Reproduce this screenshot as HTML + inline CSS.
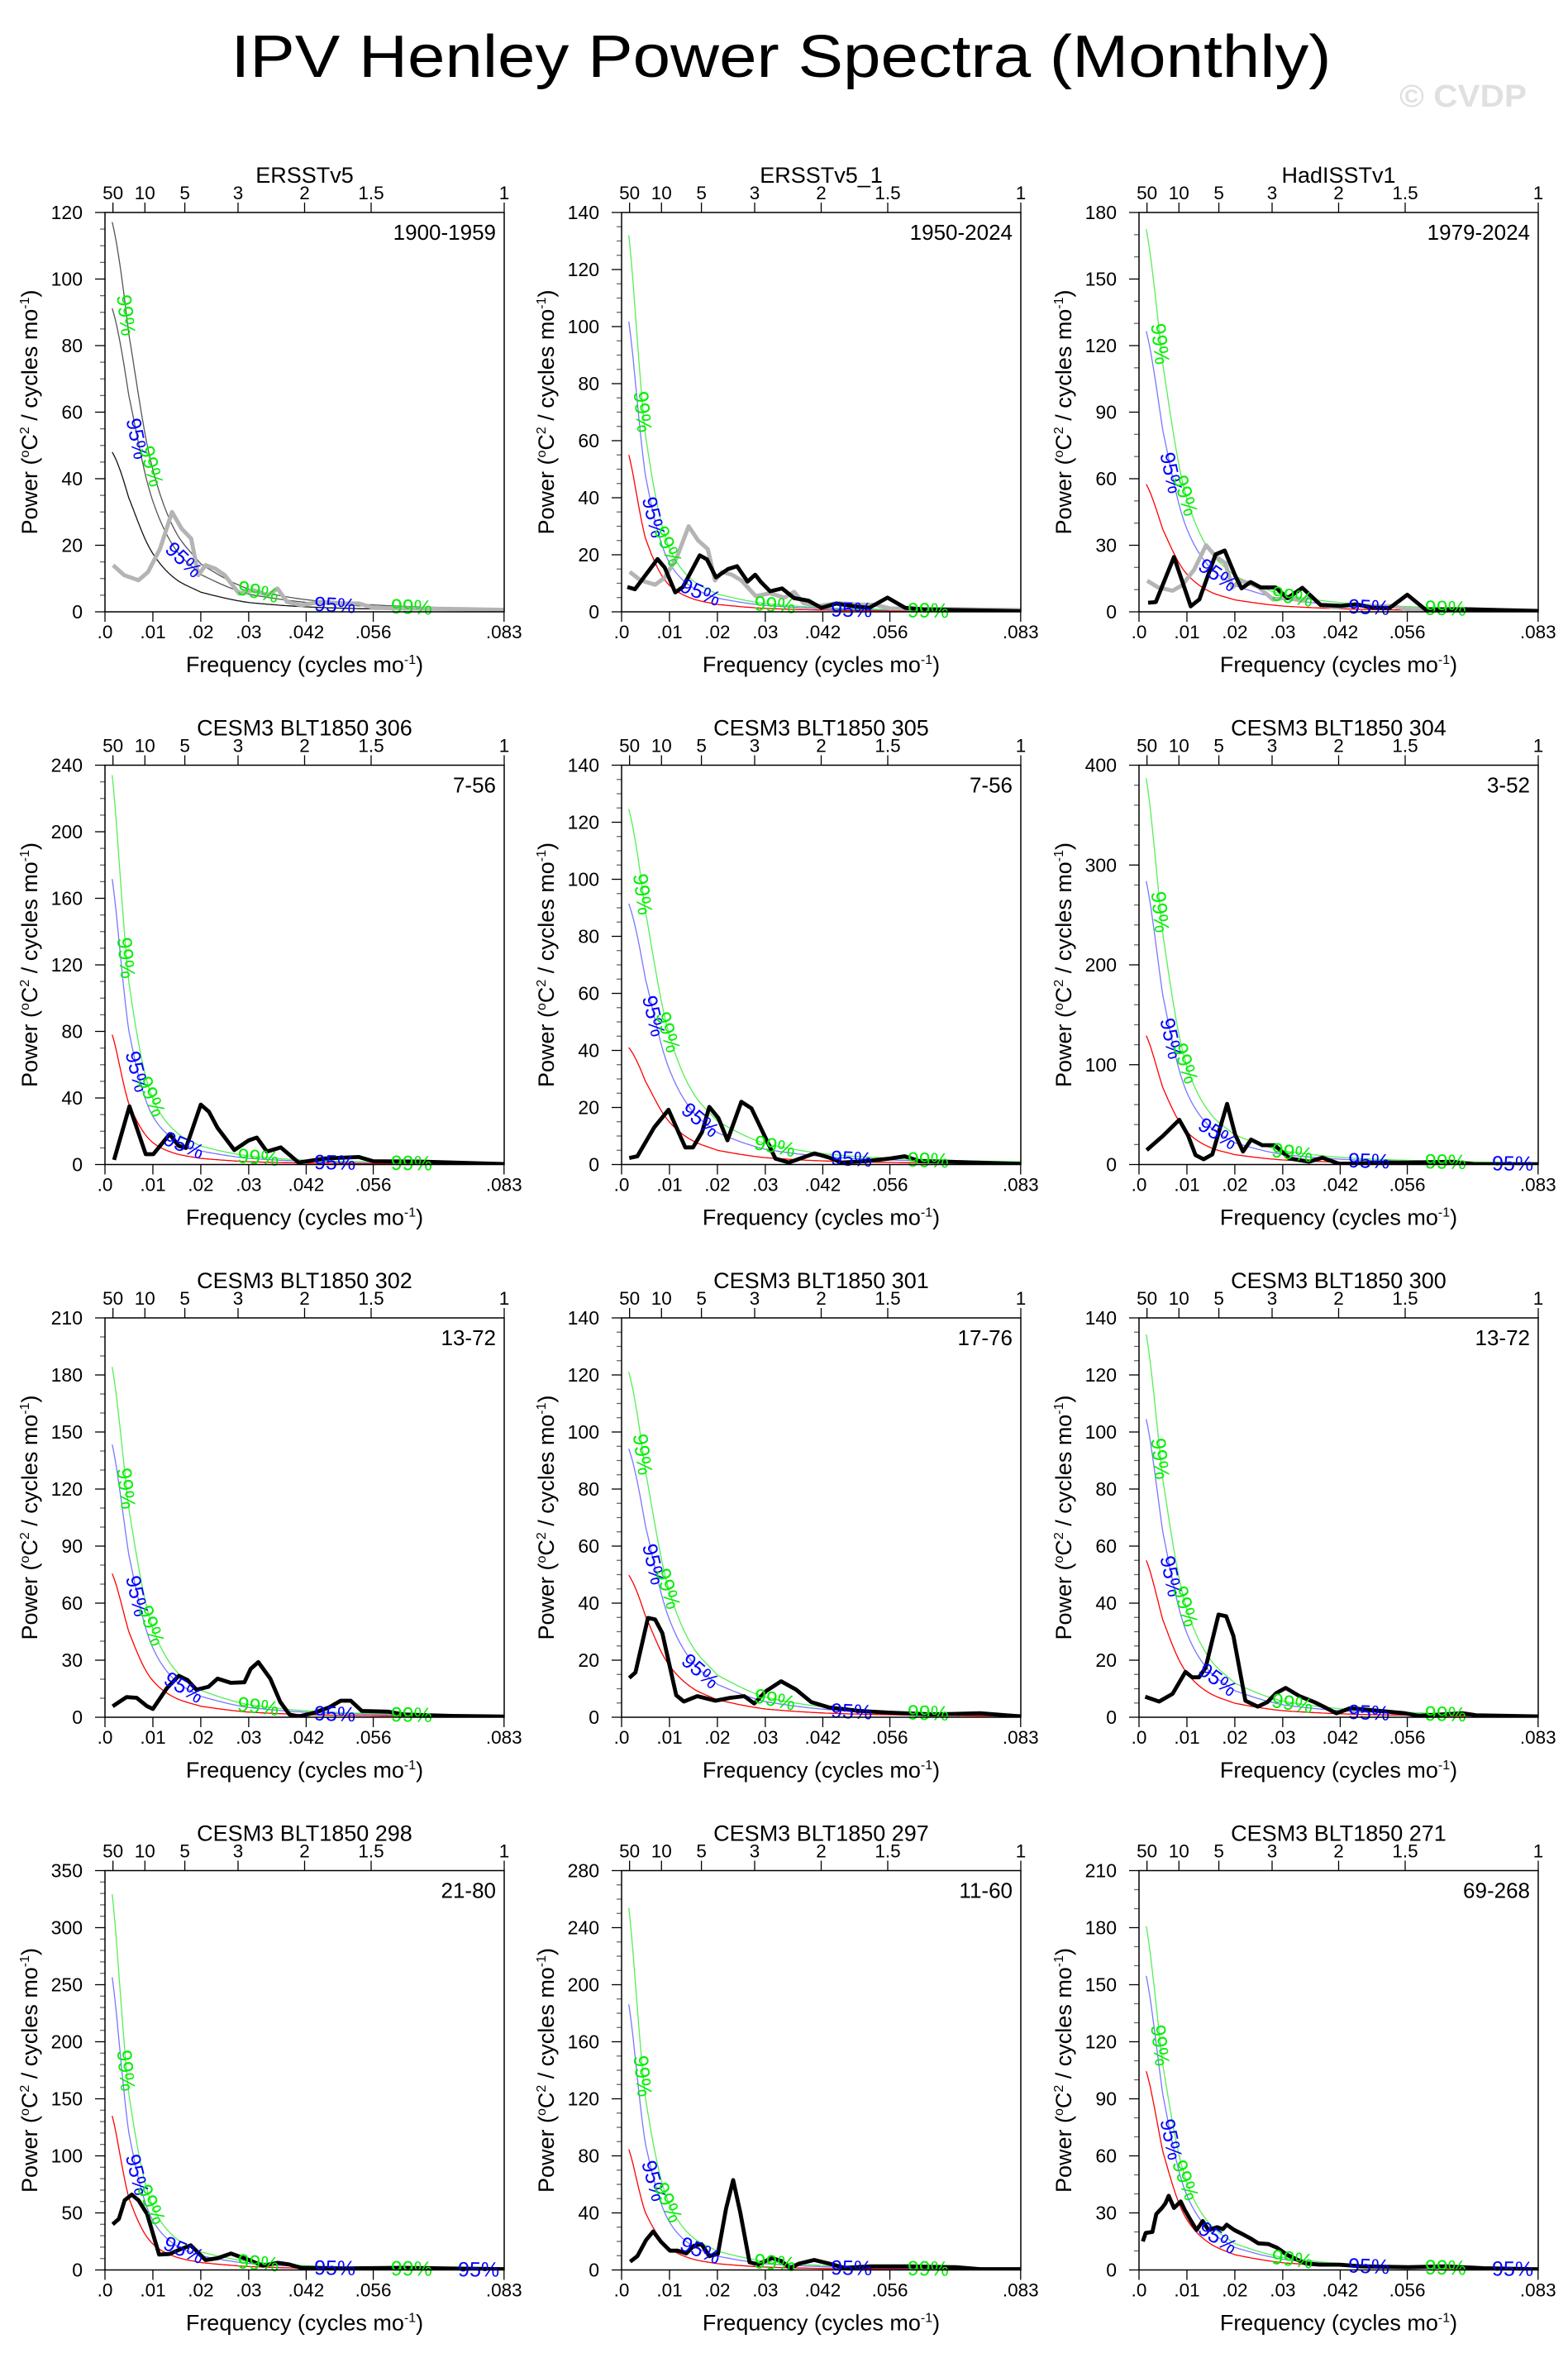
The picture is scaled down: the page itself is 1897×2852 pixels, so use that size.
<!DOCTYPE html>
<html><head><meta charset="utf-8"><title>IPV Henley Power Spectra (Monthly)</title>
<style>html,body{margin:0;padding:0;background:#fff;}svg{display:block;font-family:"Liberation Sans",sans-serif;}</style>
</head><body>
<svg id="fig" xmlns="http://www.w3.org/2000/svg" width="1897" height="2852" viewBox="0 0 1897 2852">
<rect x="0" y="0" width="1897" height="2852" fill="#fff"/>
<text x="945" y="93" font-size="72" text-anchor="middle" textLength="1331" lengthAdjust="spacingAndGlyphs">IPV Henley Power Spectra (Monthly)</text>
<text x="1693" y="129" font-size="38" font-weight="bold" fill="#e0e0e0" textLength="154" lengthAdjust="spacingAndGlyphs">© CVDP</text>
<g id="panels"></g>
</svg>
<script>
// ---- data ----
const noiseFreq = [0.0015, 0.005, 0.01, 0.015, 0.02, 0.03, 0.045, 0.06, 0.0833];
const panelTitles = ["ERSSTv5","ERSSTv5_1","HadISSTv1","CESM3 BLT1850 306","CESM3 BLT1850 305","CESM3 BLT1850 304","CESM3 BLT1850 302","CESM3 BLT1850 301","CESM3 BLT1850 300","CESM3 BLT1850 298","CESM3 BLT1850 297","CESM3 BLT1850 271"];
const panelYears = ["1900-1959","1950-2024","1979-2024","7-56","7-56","3-52","13-72","17-76","13-72","21-80","11-60","69-268"];
const yMax = [120,140,180,240,140,400,210,140,140,350,280,210];
const yStep = [20,20,30,40,20,100,30,20,20,50,40,30];
const yMinor = [5,5,10,10,5,20,10,5,5,10,10,10];
const mult95 = [1.9,1.85,2.2,2.2,2.23,2.2,1.9,1.89,1.9,1.9,2.2,1.48];
const mult99 = [2.44,2.4,3.0,3.0,3.04,3.0,2.44,2.43,2.44,2.44,3.0,1.73];
const redNoise = [
 [48,34.1,17.5,9.6,5.9,2.8,1.3,0.73,0.38],
 [55,25.7,9.3,4.5,2.6,1.2,0.53,0.3,0.16],
 [57.5,37,17,8.9,5.4,2.6,1.2,0.68,0.36],
 [78,36.4,13.2,6.4,3.7,1.7,0.76,0.43,0.23],
 [41,29.1,14.9,8.2,5.0,2.4,1.1,0.63,0.33],
 [129,76.6,32.8,16.8,9.9,4.6,2.1,1.2,0.62],
 [75.5,44.8,19.2,9.8,5.8,2.7,1.2,0.69,0.36],
 [49.8,35.4,18.1,10,6.1,2.9,1.3,0.76,0.4],
 [55,34,15.5,8.2,4.9,2.3,1.05,0.6,0.31],
 [135,63,22.8,11.1,6.5,3,1.3,0.74,0.39],
 [84.6,40,15.3,7.5,4.4,2,0.9,0.5,0.27],
 [104.5,62,26.5,13.6,8,3.8,1.7,0.95,0.5]
];
const obsSpectrum = [[0.0017,14],[0.004,11],[0.007,9.5],[0.009,12],[0.0115,19],[0.014,30],[0.016,25],[0.018,22],[0.0195,11],[0.021,14],[0.023,13],[0.025,11],[0.028,5.5],[0.031,6.5],[0.034,5],[0.036,7],[0.038,3],[0.041,2],[0.045,3],[0.05,2.5],[0.053,2.5],[0.056,1.2],[0.065,1],[0.075,0.8],[0.0833,0.6]];
const spectra = [
 null,
 [[0.0012,8.7],[0.0028,7.9],[0.0075,18.5],[0.009,15.5],[0.0112,6.8],[0.0128,8.7],[0.0163,19.8],[0.0178,18.4],[0.0197,12.1],[0.0222,15],[0.0241,16],[0.0263,10.6],[0.0279,13],[0.0291,10.4],[0.031,7.2],[0.0335,8.2],[0.036,4.8],[0.039,3.9],[0.0417,1.4],[0.0448,2.9],[0.0486,1.9],[0.0517,1.4],[0.0555,5],[0.0592,1.4],[0.063,0.8],[0.068,0.7],[0.0833,0.2]],
 [[0.0019,4.1],[0.0035,4.4],[0.0073,24.7],[0.0108,2.5],[0.0126,5.6],[0.016,25.9],[0.0179,27.6],[0.0201,16.2],[0.0214,10.6],[0.0233,13.4],[0.0254,11],[0.0285,11],[0.031,6.2],[0.0341,10.8],[0.0379,3.1],[0.0423,2.7],[0.0454,3.4],[0.0485,1.9],[0.0523,1.7],[0.056,7.7],[0.0598,1],[0.068,1.2],[0.0833,0.3]],
 [[0.0019,2.8],[0.0051,35],[0.0085,6.2],[0.0101,6.2],[0.0135,18.3],[0.0154,11.2],[0.0169,10],[0.02,36],[0.0217,31.7],[0.0235,22],[0.027,8.7],[0.03,14.5],[0.0317,16.2],[0.0338,7.8],[0.0367,10.3],[0.0404,1.2],[0.046,3.7],[0.053,4.5],[0.056,2],[0.067,1.7],[0.0833,0.3]],
 [[0.0016,2.3],[0.0033,2.9],[0.0068,13],[0.0098,19.2],[0.0133,6],[0.0149,6],[0.0168,11.4],[0.0183,20.2],[0.0202,16.3],[0.0221,8.5],[0.025,22],[0.0271,19.7],[0.0296,10.9],[0.0321,2.1],[0.0349,0.7],[0.0403,3.9],[0.0434,2.4],[0.0459,0.7],[0.051,1.2],[0.056,2.1],[0.0591,2.9],[0.0622,1.2],[0.0672,1],[0.0833,0.2]],
 [[0.0016,14.4],[0.005,28.7],[0.0084,44.8],[0.0102,29.6],[0.0118,9.4],[0.0135,5.3],[0.0153,10.2],[0.0184,60.8],[0.0201,29.6],[0.0217,13],[0.0234,24.9],[0.0257,19.4],[0.0283,19.4],[0.03,12.2],[0.0314,6.1],[0.0355,2.8],[0.0383,6.9],[0.0418,0.6],[0.0504,1.9],[0.0561,1.9],[0.0653,2.8],[0.0699,0.3],[0.0833,0.3]],
 [[0.0016,5.8],[0.0045,10.6],[0.0066,10.2],[0.0088,5.8],[0.01,4.4],[0.0129,15.2],[0.0154,21.8],[0.0172,19.6],[0.0191,14.5],[0.0216,16],[0.0235,20.3],[0.0263,18.1],[0.0291,18.4],[0.0304,25.4],[0.032,29],[0.0345,20.3],[0.0366,8],[0.0385,1.5],[0.0404,0.4],[0.0435,2.2],[0.0467,5.1],[0.0492,8.7],[0.0513,8.7],[0.0536,3.3],[0.0592,2.9],[0.0623,1.5],[0.0723,0.7],[0.0833,0.4]],
 [[0.0016,13.8],[0.0029,15.7],[0.0055,34.8],[0.007,34.3],[0.0085,29.5],[0.0114,7.7],[0.013,5.5],[0.0158,7.4],[0.0196,5.8],[0.0227,6.8],[0.0256,7.4],[0.0277,4.8],[0.0302,9.2],[0.0333,12.6],[0.0364,9.7],[0.0396,5.3],[0.0434,3.4],[0.0497,2.2],[0.056,1.6],[0.0647,1],[0.0748,1.4],[0.0833,0.3]],
 [[0.0013,7.2],[0.0042,5.5],[0.007,8.2],[0.0097,15.9],[0.0111,14],[0.0125,14],[0.0139,17.4],[0.0166,36],[0.0182,35.4],[0.0197,28.5],[0.0222,5.8],[0.0248,3.7],[0.0268,5.3],[0.0286,8.4],[0.0306,10.3],[0.0335,7.4],[0.0366,5.3],[0.0389,3.4],[0.0412,1.4],[0.0441,3.2],[0.0504,2.2],[0.0555,1.4],[0.0584,0.5],[0.0676,1.4],[0.0704,0.7],[0.0833,0.3]],
 [[0.0016,40],[0.0029,44.7],[0.0041,61],[0.0056,66],[0.007,61],[0.0088,49],[0.0113,13.5],[0.0135,14],[0.0154,17.5],[0.0179,21.6],[0.021,8.7],[0.0235,10.3],[0.0263,14.4],[0.0298,9.1],[0.0329,3.8],[0.0361,6.2],[0.0385,4.8],[0.041,1.9],[0.0498,1.4],[0.0623,1.9],[0.0723,1.2],[0.0833,0.7]],
 [[0.0018,5.8],[0.0033,9.7],[0.0051,20.9],[0.0066,27],[0.0082,19.9],[0.0101,13.5],[0.0117,13.5],[0.0135,11.6],[0.0151,17],[0.0167,18],[0.0183,9.7],[0.0201,11.2],[0.0218,43],[0.0233,63],[0.0248,40],[0.0267,5.4],[0.0285,3.9],[0.0314,8.3],[0.0333,6.4],[0.0352,1.2],[0.037,4.4],[0.0402,7],[0.0434,4.4],[0.0465,1.5],[0.0521,2.5],[0.0597,2.5],[0.0697,1.9],[0.0748,0.6],[0.0833,0.6]],
 [[0.0008,15],[0.0014,19.5],[0.0028,20],[0.0036,29.4],[0.0048,32.6],[0.0055,35],[0.0062,39],[0.0073,32.6],[0.0087,36],[0.0095,31.8],[0.0106,27],[0.012,21],[0.0133,25.7],[0.0145,21],[0.0163,22.5],[0.0175,21.5],[0.0183,23.8],[0.0199,21],[0.0213,19.2],[0.0234,16.4],[0.0249,14],[0.027,13.6],[0.0288,11.7],[0.0309,8],[0.0327,5.8],[0.0348,3.4],[0.0377,2.8],[0.042,2.8],[0.0462,1.9],[0.0562,1.5],[0.064,1.9],[0.0719,0.9],[0.0833,0.4]]
];
const bottomTickVals = [0, 0.01, 0.02, 0.03, 0.042, 0.056, 0.0833];
const bottomTickLabels = [".0", ".01", ".02", ".03", ".042", ".056", ".083"];
const topPeriods = [50, 10, 5, 3, 2, 1.5, 1];
const topPeriodLabels = ["50", "10", "5", "3", "2", "1.5", "1"];
const labelFreqs = [0.0045, 0.0068, 0.0098, 0.0165, 0.032, 0.048, 0.064];
const labelKinds = ["99", "95", "99", "95", "99", "95", "99"];

// ---- layout ----
const NS = "http://www.w3.org/2000/svg";
const colLeft = [127, 752, 1378];
const rowTop = [257, 925.5, 1594, 2262.5];
const PW = 483, PH = 483, FMAX = 1/12;
const root = document.getElementById("panels");

function mk(tag, attrs, parent) {
  const e = document.createElementNS(NS, tag);
  for (const k in attrs) e.setAttribute(k, attrs[k]);
  parent.appendChild(e);
  return e;
}
function interpLog(fr, vals, f) {
  let i = 0;
  while (i < fr.length - 2 && f > fr[i+1]) i++;
  const lv = vals.map(v => Math.log(v));
  const p0 = lv[Math.max(i-1,0)], p1 = lv[i], p2 = lv[i+1], p3 = lv[Math.min(i+2, lv.length-1)];
  const t = Math.min(Math.max((f - fr[i]) / (fr[i+1] - fr[i]), 0), 1);
  const t2 = t*t, t3 = t2*t;
  const r = 0.5*((2*p1) + (-p0+p2)*t + (2*p0-5*p1+4*p2-p3)*t2 + (-p0+3*p1-3*p2+p3)*t3);
  return Math.exp(r);
}

for (let p = 0; p < 12; p++) {
  const L = colLeft[p % 3], T = rowTop[Math.floor(p / 3)];
  const xs = f => L + f / FMAX * PW;
  const ys = v => T + PH - v / yMax[p] * PH;
  const g = mk("g", {}, root);
  
  
  const cid = "clip" + p;
  const cp = mk("clipPath", {id: cid}, g);
  mk("rect", {x: L, y: T, width: PW, height: PH}, cp);

  const tt = mk("text", {x: L + PW/2, y: T - 36, "font-size": 27, "text-anchor": "middle"}, g);
  tt.textContent = panelTitles[p];
  
  
  const yr = mk("text", {x: L + PW - 10, y: T + 33, "font-size": 26, "text-anchor": "end"}, g);
  yr.textContent = panelYears[p];
  
  

  const yt = mk("g", {stroke: "#000", "stroke-width": 1.3}, g);
  
  
  for (let v = 0; v <= yMax[p] + 1e-9; v += yMinor[p]) {
    const major = Math.abs(v / yStep[p] - Math.round(v / yStep[p])) < 1e-6;
    const y = ys(v);
    mk("line", {x1: L - (major ? 12 : 6), x2: L, y1: y, y2: y, stroke: major ? "#000" : "#666"}, yt);
    if (major) {
      const tl = mk("text", {x: L - 27, y: y + 8, "font-size": 23, "text-anchor": "end", stroke: "none"}, g);
      tl.textContent = String(Math.round(v));
      
      
    }
  }
  for (let i = 0; i < bottomTickVals.length; i++) {
    const x = xs(bottomTickVals[i]);
    mk("line", {x1: x, x2: x, y1: T + PH, y2: T + PH + 12, stroke: "#000", "stroke-width": 1.3}, g);
    const bl = mk("text", {x: x, y: T + PH + 32, "font-size": 22.5, "text-anchor": "middle"}, g);
    bl.textContent = bottomTickLabels[i];
    
    
  }
  for (let i = 0; i < topPeriods.length; i++) {
    const x = xs(1 / (12 * topPeriods[i]));
    mk("line", {x1: x, x2: x, y1: T, y2: T - 12, stroke: "#000", "stroke-width": 1.3}, g);
    const tl = mk("text", {x: x, y: T - 16, "font-size": 22.5, "text-anchor": "middle"}, g);
    tl.textContent = topPeriodLabels[i];
    
    
  }
  const xt = mk("text", {x: L + PW/2, y: T + PH + 73, "font-size": 27, "text-anchor": "middle"}, g);
  xt.innerHTML = 'Frequency (cycles mo<tspan dy="-10" font-size="16">-1</tspan><tspan dy="10">)</tspan>';
  
  
  const yT = mk("text", {x: 0, y: 0, "font-size": 27, "text-anchor": "middle", transform: `translate(${L - 82},${T + PH/2}) rotate(-90)`}, g);
  yT.innerHTML = 'Power (<tspan dy="-10" font-size="16">o</tspan><tspan dy="10">C</tspan><tspan dy="-10" font-size="16">2</tspan><tspan dy="10"> / cycles mo</tspan><tspan dy="-10" font-size="16">-1</tspan><tspan dy="10">)</tspan>';
  
  

  const plot = mk("g", {"clip-path": `url(#${cid})`}, g);
  const gray = p === 0;
  const curves = [
    {m: 1, col: gray ? "#111" : "#ff0000", name: "red-noise-curve"},
    {m: mult95[p], col: gray ? "#555" : "#7777ff", name: "confidence-95-curve"},
    {m: mult99[p], col: gray ? "#555" : "#55ee55", name: "confidence-99-curve"}
  ];
  const curveVal = (m, f) => m * interpLog(noiseFreq, redNoise[p], f);
  curves.forEach(c => {
    let d = "";
    for (let k = 0; k <= 200; k++) {
      const f = noiseFreq[0] + (noiseFreq[noiseFreq.length-1] - noiseFreq[0]) * Math.pow(k/200, 1.6);
      d += (k ? "L" : "M") + xs(f).toFixed(1) + "," + ys(curveVal(c.m, f)).toFixed(1);
    }
    const pa = mk("path", {d: d, fill: "none", stroke: c.col, "stroke-width": 1.3}, plot);
    
    
  });
  if (p < 3) {
    const d = obsSpectrum.map((q, i) => (i ? "L" : "M") + xs(q[0]).toFixed(1) + "," + ys(q[1]).toFixed(1)).join("");
    const pa = mk("path", {d: d, fill: "none", stroke: "#b4b4b4", "stroke-width": 5, "stroke-linejoin": "round"}, plot);
    
    
  }
  if (spectra[p]) {
    const d = spectra[p].map((q, i) => (i ? "L" : "M") + xs(q[0]).toFixed(1) + "," + ys(q[1]).toFixed(1)).join("");
    const pa = mk("path", {d: d, fill: "none", stroke: "#000", "stroke-width": 4.8, "stroke-linejoin": "round"}, plot);
    
    
  }
  const extraLabel = (p === 5 || p === 9 || p === 11);
  const lf = extraLabel ? labelFreqs.concat([0.078]) : labelFreqs;
  const lk = extraLabel ? labelKinds.concat(["95"]) : labelKinds;
  lf.forEach((f, i) => {
    const m = lk[i] === "95" ? mult95[p] : mult99[p];
    const x = xs(f), y = ys(curveVal(m, f));
    const dx = xs(f + 0.0005) - x, dy = ys(curveVal(m, f + 0.0005)) - y;
    const ang = Math.atan2(dy, dx) * 180 / Math.PI;
    const lb = mk("text", {x: 0, y: 0, "font-size": 25, "text-anchor": "middle", fill: lk[i] === "95" ? "#0000ff" : "#00ee00", transform: `translate(${x.toFixed(1)},${y.toFixed(1)}) rotate(${ang.toFixed(1)}) translate(0,9)`}, g);
    lb.textContent = lk[i] + "%";
    
    
  });
  const fr = mk("rect", {x: L, y: T, width: PW, height: PH, fill: "none", stroke: "#000", "stroke-width": 1.5}, g);
  
  
}
</script>
</body></html>
